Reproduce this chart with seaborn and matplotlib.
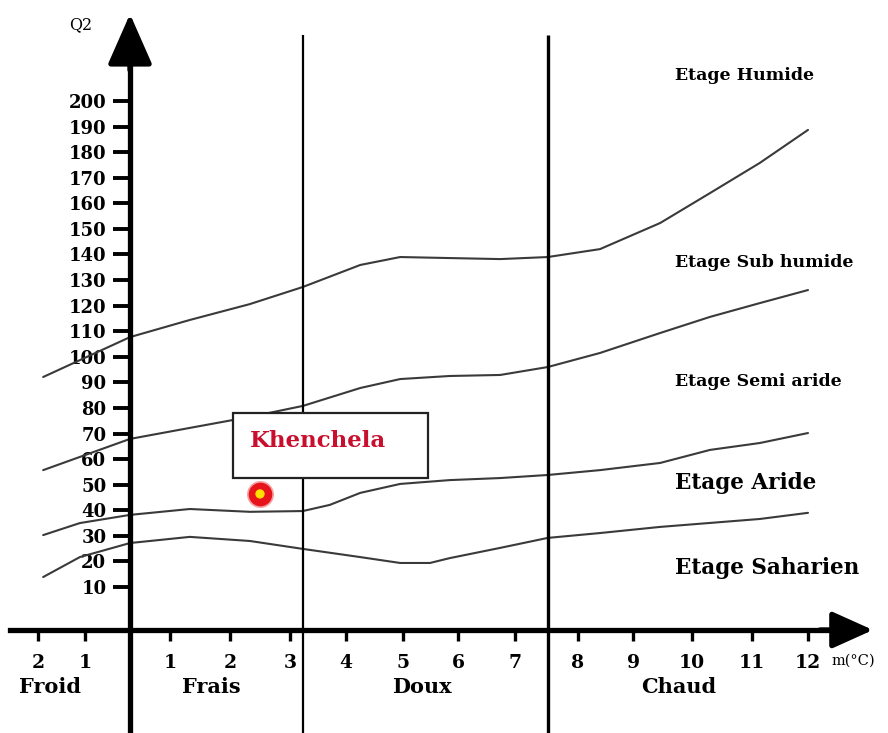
import numpy as np
import pandas as pd
import matplotlib
matplotlib.use("Agg")
import matplotlib.pyplot as plt
from matplotlib.patches import Rectangle
import seaborn as sns

# ---------------- data ----------------
# boundary curves of the Emberger climagram: m (°C) vs Q2
m_humide = [-1.89, 0, 1.33, 2.33, 3.23, 4.25, 4.95, 5.85, 6.74, 7.52, 8.4, 9.46, 10.3, 11.14, 12.0]
q_humide = [92.1, 107.7, 114.4, 120.6, 127.3, 135.9, 139.0, 138.6, 138.2, 139.0, 142.1, 152.3, 164.0, 175.8, 188.7]

m_subhumide = [-1.89, 0, 1.33, 2.33, 3.23, 4.25, 4.95, 5.85, 6.74, 7.52, 8.4, 9.46, 10.3, 11.14, 12.0]
q_subhumide = [55.7, 67.9, 72.2, 76.5, 80.8, 87.8, 91.3, 92.5, 92.9, 96.0, 101.5, 109.3, 115.6, 121.0, 126.1]

m_semiaride = [-1.89, -1.11, 0, 1.33, 2.33, 3.23, 3.71, 4.25, 4.95, 5.85, 6.74, 7.52, 8.4, 9.46, 10.3, 11.14, 12.0]
q_semiaride = [30.3, 35.0, 38.2, 40.5, 39.4, 39.7, 42.1, 46.8, 50.3, 51.8, 52.6, 53.8, 55.7, 58.5, 63.6, 66.3, 70.2]

m_aride = [-1.89, -1.11, 0, 1.33, 2.33, 3.23, 4.25, 4.95, 5.49, 5.85, 6.74, 7.52, 8.4, 9.46, 11.14, 12.0]
q_aride = [13.9, 21.7, 27.2, 29.6, 28.0, 24.9, 21.7, 19.4, 19.4, 21.3, 25.3, 29.2, 31.1, 33.5, 36.6, 39.0]

station_name = ["Khenchela"]
station_m = [2.5]
station_q = [46.4]

zone_bounds_m = [3.23, 7.52]          # Frais/Doux and Doux/Chaud limits

q_ticks = list(range(10, 201, 10))
m_ticks = [-2, -1, 1, 2, 3, 4, 5, 6, 7, 8, 9, 10, 11, 12]
m_ticklabels = ["2", "1", "1", "2", "3", "4", "5", "6", "7", "8", "9", "10", "11", "12"]

zone_names = ["Froid", "Frais", "Doux", "Chaud"]
etage_names = ["Etage Humide", "Etage Sub humide", "Etage Semi aride", "Etage Aride", "Etage Saharien"]

# ---------------- hand-drawn (non uniform) temperature axis ----------------
MK = np.array([-2, -1, 0, 1, 2, 3, 4, 5, 6, 7, 8, 9, 10, 11, 12], float)
PK = np.array([38, 85, 130, 170, 230, 290, 346, 403, 458, 515, 578, 633, 692, 752, 808], float)
SL, SR = 47.0, 56.0


def fwd(m):
    m = np.asarray(m, float)
    out = np.interp(m, MK, PK)
    out = np.where(m < MK[0], PK[0] + (m - MK[0]) * SL, out)
    out = np.where(m > MK[-1], PK[-1] + (m - MK[-1]) * SR, out)
    return out


def inv(p):
    p = np.asarray(p, float)
    out = np.interp(p, PK, MK)
    out = np.where(p < PK[0], MK[0] + (p - PK[0]) / SL, out)
    out = np.where(p > PK[-1], MK[-1] + (p - PK[-1]) / SR, out)
    return out


W, H = 888, 733
sns.set_style("white")
plt.rcParams["font.family"] = ["DejaVu Serif"]
plt.rcParams["text.color"] = "black"

fig = plt.figure(figsize=(W / 100, H / 100), dpi=100)
ax = fig.add_axes([0, 0, 1, 1])
ax.set_xscale("function", functions=(fwd, inv))
ax.set_xlim(float(inv(0)), float(inv(W)))
# y: py = 101 + (200 - Q) * 2.558
YS = 2.558
ax.set_ylim(200 - (H - 101) / YS, 200 + 101 / YS)


def q_of(py):
    return 200 - (py - 101) / YS


def axf(px, py):
    return px / W, 1 - py / H


curve_col = "#3a3a3a"
for mm, qq in [(m_humide, q_humide), (m_subhumide, q_subhumide),
               (m_semiaride, q_semiaride), (m_aride, q_aride)]:
    sns.lineplot(x=mm, y=qq, ax=ax, sort=False, color=curve_col, lw=1.5, zorder=2)

# zone limits
ax.vlines(zone_bounds_m[0], ax.get_ylim()[0], q_of(35), color="black", lw=1.6, zorder=2)
ax.vlines(zone_bounds_m[1], ax.get_ylim()[0], q_of(35), color="black", lw=2.4, zorder=2)

# axes (spines + arrows)
for s in ["top", "right"]:
    ax.spines[s].set_visible(False)
x_axis_q = q_of(630)
ax.spines["left"].set_position(("data", 0))
ax.spines["bottom"].set_position(("data", x_axis_q))
for s in ["left", "bottom"]:
    ax.spines[s].set_linewidth(3.8)
    ax.spines[s].set_color("black")
    ax.spines[s].set_zorder(3)
ax.spines["left"].set_bounds(ax.get_ylim()[0], q_of(45))
ax.spines["bottom"].set_bounds(float(inv(10)), float(inv(845)))
ax.annotate("", xy=(0, q_of(14)), xytext=(0, q_of(70)),
            arrowprops=dict(arrowstyle="-|>,head_length=1.25,head_width=0.55",
                            mutation_scale=25, lw=3.8, color="black",
                            shrinkA=0, shrinkB=0), zorder=4)
ax.annotate("", xy=(float(inv(873)), x_axis_q), xytext=(float(inv(820)), x_axis_q),
            arrowprops=dict(arrowstyle="-|>,head_length=1.0,head_width=0.45",
                            mutation_scale=25, lw=3.8, color="black",
                            shrinkA=0, shrinkB=0), zorder=4)

ax.set_yticks(q_ticks)
ax.set_yticklabels([str(v) for v in q_ticks], fontsize=13, fontweight="bold")
ax.set_xticks(m_ticks)
ax.set_xticklabels(m_ticklabels, fontsize=13.5, fontweight="bold")
ax.tick_params(axis="y", left=True, direction="out", length=12, width=2.8, pad=5,
               colors="black", labelcolor="black")
ax.tick_params(axis="x", bottom=True, direction="out", length=8, width=2.4, pad=9,
               colors="black", labelcolor="black")
ax.minorticks_off()
ax.set_xlabel("")
ax.set_ylabel("")

# axis titles
ax.text(*axf(81, 25), "Q2", transform=ax.transAxes, fontsize=11.5, ha="center", va="center",
        color="black")
ax.text(*axf(831, 661), "m(°C)", transform=ax.transAxes, fontsize=10.5, ha="left", va="center",
        color="black")

# temperature zones
for name, px in zip(zone_names, [50, 211, 422, 679]):
    ax.text(*axf(px, 687), name, transform=ax.transAxes, fontsize=15, fontweight="bold",
            ha="center", va="center", color="black")

# bioclimatic stages
for name, py, fs in zip(etage_names, [75, 262, 381, 483, 568], [12.5, 12.5, 12.5, 15.5, 15.5]):
    ax.text(*axf(675, py), name, transform=ax.transAxes, fontsize=fs, fontweight="bold",
            ha="left", va="center", color="black")

# station box and point
bx0, by0 = axf(233, 478)
bx1, by1 = axf(428, 413)
ax.add_patch(Rectangle((bx0, by0), bx1 - bx0, by1 - by0, transform=ax.transAxes,
                       facecolor="white", edgecolor="#222222", lw=1.6, zorder=5))
ax.text(*axf(250, 441), station_name[0], transform=ax.transAxes, fontsize=16.5,
        fontweight="bold", color="#c8102e", ha="left", va="center", zorder=6)
sns.scatterplot(x=station_m, y=station_q, ax=ax, s=330, color="#e8141c",
                edgecolor="#f2a0a0", linewidth=1.2, zorder=6, legend=False)
sns.scatterplot(x=station_m, y=station_q, ax=ax, s=45, color="#ffe000",
                edgecolor="none", zorder=7, legend=False)

fig.savefig("out.png", dpi=100)
